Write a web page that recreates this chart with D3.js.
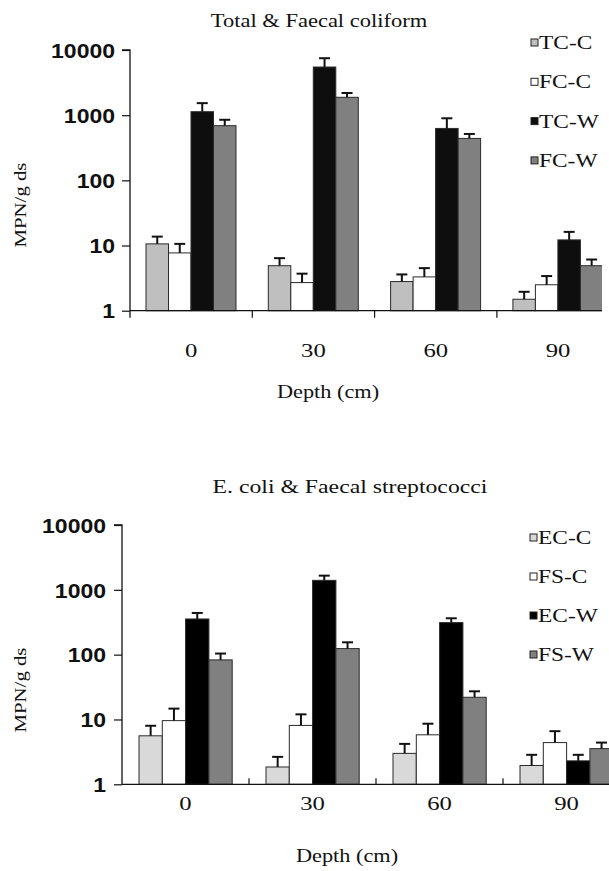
<!DOCTYPE html>
<html lang="en">
<head>
    <meta charset="UTF-8">
    <title>Coliform and streptococci by depth</title>
    <script src="https://d3js.org/d3.v7.min.js"></script>
    <style>
        body {
            margin: 0;
            padding: 0;
            background: #fff;
        }
        svg {
            display: block;
        }
        .serif {
            font-family: "Liberation Serif", "DejaVu Serif", serif;
            fill: #111;
        }
        .tick-num {
            font-family: "Liberation Sans", Arial, sans-serif;
            font-weight: bold;
            fill: #111;
        }
    </style>
</head>
<body>
    <div id="chart"></div>

    <script>
        // depth categories (cm)
        const depths = ["0", "30", "60", "90"];
        const yTicks = [1, 10, 100, 1000, 10000];

        // top panel: total & faecal coliform (MPN/g ds)
        const topSeries = ["TC-C", "FC-C", "TC-W", "FC-W"];
        const tcC = [10.6, 4.9, 2.8, 1.5];
        const tcCErr = [3.1, 1.5, 0.8, 0.45];
        const fcC = [7.7, 2.7, 3.3, 2.5];
        const fcCErr = [2.9, 1.0, 1.2, 0.9];
        const tcW = [1130, 5480, 626, 12.2];
        const tcWErr = [400, 2000, 270, 4.0];
        const fcW = [690, 1880, 440, 4.9];
        const fcWErr = [160, 310, 75, 1.2];

        // bottom panel: E. coli & faecal streptococci
        const botSeries = ["EC-C", "FS-C", "EC-W", "FS-W"];
        const ecC = [5.6, 1.85, 3.0, 1.95];
        const ecCErr = [2.4, 0.8, 1.2, 0.9];
        const fsC = [9.6, 8.1, 5.8, 4.4];
        const fsCErr = [5.1, 3.9, 2.8, 2.2];
        const ecW = [355, 1400, 312, 2.3];
        const ecWErr = [85, 255, 52, 0.55];
        const fsW = [83, 124, 22, 3.55];
        const fsWErr = [21, 31, 5.2, 0.85];

        const width = 609;
        const height = 871;

        const svg = d3.select("#chart")
            .append("svg")
            .attr("width", width)
            .attr("height", height);

        // wide-set serif look: stretch text along its own direction
        function label(g, text, x, y, o) {
            o = o || {};
            return g.append("text")
                .attr("class", o.cls || "serif")
                .attr("transform", `translate(${x},${y}) rotate(${o.rot || 0}) scale(${o.sx || 1.25},1)`)
                .attr("text-anchor", o.anchor || "middle")
                .attr("dominant-baseline", o.base || "auto")
                .style("font-size", (o.size || 18) + "px")
                .text(text);
        }

        function panel(cfg) {
            const g = svg.append("g");

            const x = d3.scaleBand()
                .domain(depths)
                .range([cfg.x0, cfg.x0 + 4 * cfg.band]);
            const xs = d3.scaleBand()
                .domain(cfg.series)
                .range([cfg.pad, cfg.pad + 4 * cfg.barW]);
            const y = d3.scaleLog()
                .domain([1, 10000])
                .range([cfg.yBottom, cfg.yTop]);

            const clipId = "clip" + cfg.id;
            svg.append("clipPath").attr("id", clipId)
                .append("rect")
                .attr("x", 0).attr("y", 0)
                .attr("width", cfg.clipX).attr("height", height);

            const plot = g.append("g").attr("clip-path", `url(#${clipId})`);

            // bars
            const rows = [];
            cfg.series.forEach((s, i) => {
                depths.forEach((d, j) => {
                    rows.push({ s: s, d: d, v: cfg.values[i][j], e: cfg.errors[i][j], c: cfg.colors[i] });
                });
            });

            plot.selectAll("rect.bar")
                .data(rows)
                .enter().append("rect")
                .attr("class", "bar")
                .attr("x", r => x(r.d) + xs(r.s))
                .attr("width", xs.bandwidth())
                .attr("y", r => y(r.v))
                .attr("height", r => y(1) - y(r.v))
                .attr("fill", r => r.c)
                .attr("stroke", "#2a2a2a")
                .attr("stroke-width", 1);

            // error bars (upper only)
            const eb = plot.selectAll("g.err")
                .data(rows)
                .enter().append("g")
                .attr("class", "err")
                .attr("transform", r => `translate(${x(r.d) + xs(r.s) + xs.bandwidth() / 2},0)`);
            eb.append("line")
                .attr("y1", r => y(r.v))
                .attr("y2", r => y(r.v + r.e))
                .attr("stroke", "#111")
                .attr("stroke-width", 2);
            eb.append("line")
                .attr("x1", -5.5).attr("x2", 5.5)
                .attr("y1", r => y(r.v + r.e))
                .attr("y2", r => y(r.v + r.e))
                .attr("stroke", "#111")
                .attr("stroke-width", 2);

            // x axis line and category ticks
            plot.append("line")
                .attr("x1", cfg.x0).attr("x2", x.range()[1])
                .attr("y1", y(1)).attr("y2", y(1))
                .attr("stroke", "#111").attr("stroke-width", 1.3);
            const bounds = depths.map(d => x(d)).slice(1);
            plot.selectAll("line.xt")
                .data(bounds)
                .enter().append("line")
                .attr("class", "xt")
                .attr("x1", d => d).attr("x2", d => d)
                .attr("y1", y(1)).attr("y2", y(1) + cfg.xTick)
                .attr("stroke", "#111").attr("stroke-width", 1.2);

            // y axis
            const yAxis = g.append("g")
                .attr("transform", `translate(${cfg.x0},0)`)
                .call(d3.axisLeft(y).tickValues(yTicks).tickFormat(d3.format("d")).tickSize(8));
            yAxis.select(".domain").attr("stroke", "#111").attr("stroke-width", 1.3)
                .attr("d", `M-8,${cfg.yTop}H0V${y(1) + cfg.yExtra}`);
            yAxis.selectAll(".tick line").attr("stroke", "#111").attr("stroke-width", 1.2);
            yAxis.selectAll(".tick text")
                .attr("class", "tick-num")
                .attr("x", 0)
                .attr("dy", "0.36em")
                .attr("transform", `translate(${-cfg.labelGap},0) scale(1.15,1)`)
                .style("font-size", "20px");

            // category labels
            depths.forEach(d => {
                label(g, d, x(d) + x.bandwidth() / 2, cfg.xLabelY, { size: 19, sx: 1.3 });
            });

            label(g, cfg.title, cfg.titleX, cfg.titleY, { size: cfg.titleSize, sx: 1.25 });
            label(g, "Depth (cm)", cfg.xTitleX, cfg.xTitleY, { size: 18, sx: 1.24 });
            label(g, "MPN/g ds", cfg.yTitleX, cfg.yTitleY, { size: 16, sx: 1.3, rot: -90, base: "middle" });

            // legend
            const leg = g.selectAll("g.leg")
                .data(cfg.series)
                .enter().append("g")
                .attr("class", "leg")
                .attr("transform", (s, i) => `translate(${cfg.legX},${cfg.legY + i * cfg.legStep})`);
            leg.append("rect")
                .attr("x", 0).attr("y", -4)
                .attr("width", 7).attr("height", 7)
                .attr("fill", (s, i) => cfg.colors[i])
                .attr("stroke", "#222").attr("stroke-width", 1);
            leg.each(function (s) {
                label(d3.select(this), s, 8, 6, { size: 18, sx: 1.3, anchor: "start" });
            });
        }

        panel({
            id: "top",
            title: "Total & Faecal coliform",
            series: topSeries,
            values: [tcC, fcC, tcW, fcW],
            errors: [tcCErr, fcCErr, tcWErr, fcWErr],
            colors: ["#bfbfbf", "#ffffff", "#0e0e0e", "#808080"],
            x0: 130, band: 122.3, pad: 16, barW: 22.5,
            yTop: 50, yBottom: 310.7, yExtra: 7,
            xTick: 7, clipX: 602, labelGap: 15,
            xLabelY: 357, titleX: 319, titleY: 27, titleSize: 18,
            xTitleX: 328, xTitleY: 398,
            yTitleX: 22, yTitleY: 205,
            legX: 531, legY: 43, legStep: 39.3
        });

        panel({
            id: "bot",
            title: "E. coli & Faecal streptococci",
            series: botSeries,
            values: [ecC, fsC, ecW, fsW],
            errors: [ecCErr, fsCErr, ecWErr, fsWErr],
            colors: ["#d9d9d9", "#ffffff", "#000000", "#808080"],
            x0: 122, band: 127, pad: 17, barW: 23.3,
            yTop: 525, yBottom: 784.3, yExtra: 0,
            xTick: -6, clipX: 609, labelGap: 16,
            xLabelY: 810, titleX: 350, titleY: 493, titleSize: 19,
            xTitleX: 347, xTitleY: 862,
            yTitleX: 22, yTitleY: 690,
            legX: 530, legY: 538, legStep: 39
        });
    </script>
</body>
</html>
